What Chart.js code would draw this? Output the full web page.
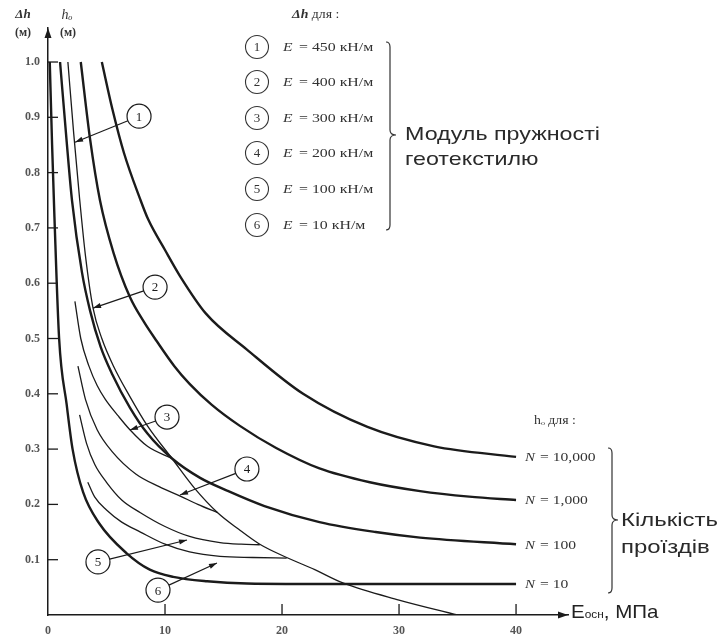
<!DOCTYPE html>
<html><head><meta charset="utf-8">
<script src="https://cdn.jsdelivr.net/npm/chart.js@4.4.0/dist/chart.umd.min.js"></script>
<style>html,body{margin:0;padding:0;background:#fff;}#wrap{width:720px;height:639px;}</style>
</head><body><div id="wrap"><canvas id="c" width="720" height="639"></canvas></div>
<script>
// ---- tick labels ----
const xTicks = [0, 10, 20, 30, 40];
const yTicks = [0.1, 0.2, 0.3, 0.4, 0.5, 0.6, 0.7, 0.8, 0.9, 1.0];

// ---- h0 curves (heavy) ----
const n10X = [0.15, 0.35, 0.55, 0.95, 1.6, 2.1, 3.0, 4.4, 6.7, 8.7, 10.7, 13.6, 17, 25, 40];
const n10Y = [1.0, 0.85, 0.72, 0.5, 0.38, 0.30, 0.222, 0.165, 0.112, 0.082, 0.069, 0.061, 0.057, 0.056, 0.056];
const n100X = [1.03, 1.6, 2.05, 2.9, 3.6, 4.5, 5.5, 7.0, 8.5, 10.6, 13, 15.3, 18.5, 23.2, 28, 31.8, 40];
const n100Y = [1.0, 0.855, 0.75, 0.62, 0.55, 0.485, 0.435, 0.375, 0.328, 0.283, 0.248, 0.225, 0.197, 0.168, 0.15, 0.14, 0.128];
const n1000X = [2.8, 3.6, 4.44, 5.6, 7.0, 8.2, 9.3, 10.8, 12.1, 14, 16.4, 19.5, 23.2, 27.5, 31.8, 36, 40];
const n1000Y = [1.0, 0.86, 0.75, 0.655, 0.575, 0.53, 0.495, 0.45, 0.418, 0.38, 0.342, 0.302, 0.265, 0.24, 0.224, 0.214, 0.208];
const n10000X = [4.6, 5.5, 6.5, 7.86, 8.57, 10, 11.28, 13.5, 17, 21.8, 27.3, 33, 40];
const n10000Y = [1.0, 0.915, 0.835, 0.753, 0.715, 0.66, 0.613, 0.545, 0.48, 0.40, 0.34, 0.305, 0.286];
const nLabels = ['10', '100', '1,000', '10,000'];

// ---- delta-h curves (thin) ----
const dLongX = [1.7, 2.2, 2.7, 3.2, 3.85, 4.6, 5.6, 7.0, 8.5, 10.6, 12.5, 14.5, 16.3, 18.1, 20.4, 22.8, 25.2, 30, 35];
const dLongY = [1.0, 0.87, 0.753, 0.65, 0.555, 0.5, 0.45, 0.395, 0.342, 0.283, 0.23, 0.185, 0.155, 0.128, 0.104, 0.082, 0.058, 0.027, 0];
const d3X = [2.3, 2.8, 3.5, 4.2, 4.9, 6.0, 7.0, 8.5, 10.6];
const d3Y = [0.567, 0.5, 0.45, 0.415, 0.39, 0.36, 0.335, 0.305, 0.283];
const d4X = [2.56, 3.2, 4.2, 5.5, 7.5, 9.5, 11.3, 12.8, 14.5];
const d4Y = [0.45, 0.39, 0.335, 0.295, 0.255, 0.232, 0.215, 0.2, 0.185];
const d5X = [2.7, 3.3, 4.0, 5.0, 6.3, 7.9, 10, 12.1, 14.7, 16.5, 18.1];
const d5Y = [0.362, 0.31, 0.272, 0.24, 0.208, 0.185, 0.16, 0.142, 0.131, 0.128, 0.127];
const d6X = [3.4, 4.0, 5.0, 6.3, 7.9, 10, 12.1, 14.7, 17.5, 20.4];
const d6Y = [0.24, 0.213, 0.19, 0.168, 0.15, 0.128, 0.114, 0.106, 0.104, 0.103];
const eValues = ['450', '400', '300', '200', '100', '10'];

// ---- callouts: circle number, circle centre and arrow tip (data units) ----
const calloutNum = [1, 2, 3, 4, 5, 6];
const calloutCX = [7.78, 9.15, 10.17, 17.0, 4.27, 9.4];
const calloutCY = [0.902, 0.593, 0.358, 0.264, 0.096, 0.045];
const calloutTX = [2.31, 3.85, 7.0, 11.28, 11.88, 14.44];
const calloutTY = [0.855, 0.555, 0.3345, 0.217, 0.1356, 0.094];

const INK = '#1b1b1b';
const SERIF = '"Liberation Serif", "DejaVu Serif", serif';
const SANS = '"Liberation Sans", Arial, sans-serif';

function pts(xs, ys) { return xs.map((x, i) => ({ x: x, y: ys[i] })); }
function ds(xs, ys, w) {
  return { data: pts(xs, ys), showLine: true, borderColor: INK, borderWidth: w,
    pointRadius: 0, fill: false, cubicInterpolationMode: 'monotone' };
}

function line(ctx, a, b, c, d) { ctx.beginPath(); ctx.moveTo(a, b); ctx.lineTo(c, d); ctx.stroke(); }
function head(ctx, x, y, dx, dy, len, hw) {
  const l = Math.hypot(dx, dy); dx /= l; dy /= l;
  ctx.beginPath();
  ctx.moveTo(x, y);
  ctx.lineTo(x - dx * len - dy * hw, y - dy * len + dx * hw);
  ctx.lineTo(x - dx * len + dy * hw, y - dy * len - dx * hw);
  ctx.closePath(); ctx.fill();
}
function brace(ctx, x, y0, y1, ym, w) {
  ctx.beginPath();
  ctx.moveTo(x - 4, y0);
  ctx.quadraticCurveTo(x, y0, x, y0 + 5);
  ctx.lineTo(x, ym - 5);
  ctx.quadraticCurveTo(x, ym, x + w, ym);
  ctx.quadraticCurveTo(x, ym, x, ym + 5);
  ctx.lineTo(x, y1 - 5);
  ctx.quadraticCurveTo(x, y1, x - 4, y1);
  ctx.stroke();
}
// text stretched horizontally by factor sx, starting at x
function textX(ctx, t, x, y, sx) {
  ctx.save(); ctx.translate(x, y); ctx.scale(sx, 1); ctx.fillText(t, 0, 0); ctx.restore();
  return ctx.measureText(t).width * sx;
}

const deco = {
  id: 'deco',
  afterDraw(chart) {
    const ctx = chart.ctx, xs = chart.scales.x, ys = chart.scales.y, ca = chart.chartArea;
    ctx.save();
    ctx.strokeStyle = INK; ctx.fillStyle = INK;
    // inner tick marks
    ctx.lineWidth = 1.3;
    yTicks.forEach(v => { const p = ys.getPixelForValue(v); line(ctx, ca.left, p, ca.left + 10, p); });
    xTicks.forEach(v => { if (v === 0) return; const p = xs.getPixelForValue(v); line(ctx, p, ca.bottom, p, ca.bottom - 11); });
    // axis arrowheads
    head(ctx, ca.left, ca.top, 0, -1, 10, 3.5);
    head(ctx, ca.right, ca.bottom, 1, 0, 10, 3.5);

    // axis titles top-left
    ctx.fillStyle = '#333';
    ctx.textBaseline = 'middle'; ctx.textAlign = 'center';
    ctx.font = 'italic bold 13px ' + SERIF;
    ctx.fillText('Δh', 23, 15);
    ctx.font = 'italic 14px ' + SERIF;
    ctx.fillText('hₒ', 67, 15);
    ctx.font = 'bold 12px ' + SERIF;
    ctx.fillText('(м)', 23, 33);
    ctx.fillText('(м)', 68, 33);

    // x axis title
    ctx.fillStyle = '#222';
    ctx.textAlign = 'left'; ctx.textBaseline = 'alphabetic';
    let tx = ca.right + 3;
    ctx.font = '19px ' + SANS; tx += textX(ctx, 'E', tx, 618, 1.08);
    ctx.font = '11px ' + SANS; tx += textX(ctx, 'осн', tx, 618, 1.08);
    ctx.font = '19px ' + SANS; textX(ctx, ', МПа', tx, 618, 1.08);

    // legend of delta-h curves
    ctx.fillStyle = '#333'; ctx.strokeStyle = '#333';
    ctx.textAlign = 'left'; ctx.textBaseline = 'middle';
    ctx.font = 'italic bold 12px ' + SERIF; let hx = 292 + textX(ctx, 'Δh', 292, 15, 1.15);
    ctx.font = '12px ' + SERIF; textX(ctx, ' для :', hx, 15, 1.15);
    const rows = [47, 82, 118, 153, 189, 225];
    ctx.lineWidth = 1.1;
    eValues.forEach((v, i) => {
      const y = rows[i];
      ctx.beginPath(); ctx.arc(257, y, 11.5, 0, Math.PI * 2); ctx.stroke();
      ctx.textAlign = 'center'; ctx.font = '13px ' + SERIF; ctx.fillText(String(i + 1), 257, y + 1);
      ctx.textAlign = 'left';
      ctx.font = 'italic 13px ' + SERIF; textX(ctx, 'E', 283, y + 1, 1.2);
      ctx.font = '13px ' + SERIF; textX(ctx, '= ' + v + ' кН/м', 299, y + 1, 1.22);
    });
    ctx.lineWidth = 1.2;
    brace(ctx, 390, 42, 230, 135, 6);
    ctx.fillStyle = '#2a2a2a';
    ctx.font = '19px ' + SANS; ctx.textBaseline = 'alphabetic';
    const sxM = 195 / ctx.measureText('Модуль пружності').width;
    textX(ctx, 'Модуль пружності', 405, 140, sxM);
    textX(ctx, 'геотекстилю', 405, 165, sxM);

    // N labels
    ctx.fillStyle = '#333';
    ctx.textBaseline = 'middle';
    const tails = [n10Y, n100Y, n1000Y, n10000Y];
    nLabels.forEach((t, i) => {
      const yv = tails[i][tails[i].length - 1];
      const py = ys.getPixelForValue(yv) + 1;
      const px = xs.getPixelForValue(40) + 9;
      ctx.font = 'italic 13px ' + SERIF; textX(ctx, 'N', px, py, 1.15);
      ctx.font = '13px ' + SERIF; textX(ctx, '= ' + t, px + 15, py, 1.2);
    });
    ctx.font = '12px ' + SERIF; textX(ctx, 'hₒ для :', 534, 421, 1.15);
    brace(ctx, 612, 448, 593, 520, 6);
    ctx.fillStyle = '#2a2a2a';
    ctx.font = '19px ' + SANS; ctx.textBaseline = 'alphabetic';
    const sxK = 97 / ctx.measureText('Кількість').width;
    textX(ctx, 'Кількість', 621, 526, sxK);
    textX(ctx, 'проїздів', 621, 553, sxK);

    // callouts
    ctx.strokeStyle = INK; ctx.fillStyle = INK;
    calloutNum.forEach((n, i) => {
      const cx = xs.getPixelForValue(calloutCX[i]), cy = ys.getPixelForValue(calloutCY[i]);
      const px = xs.getPixelForValue(calloutTX[i]), py = ys.getPixelForValue(calloutTY[i]);
      const r = 12;
      ctx.lineWidth = 1.2;
      ctx.beginPath(); ctx.arc(cx, cy, r, 0, Math.PI * 2); ctx.stroke();
      const dx = px - cx, dy = py - cy, l = Math.hypot(dx, dy);
      line(ctx, cx + dx / l * r, cy + dy / l * r, px, py);
      head(ctx, px, py, dx, dy, 8, 2.6);
      ctx.font = '13px ' + SERIF; ctx.textAlign = 'center'; ctx.textBaseline = 'middle';
      ctx.fillText(String(n), cx, cy + 1);
    });
    ctx.restore();
  }
};

new Chart(document.getElementById('c'), {
  type: 'scatter',
  data: {
    datasets: [
      ds(n10X, n10Y, 2.4), ds(n100X, n100Y, 2.4), ds(n1000X, n1000Y, 2.4), ds(n10000X, n10000Y, 2.4),
      ds(dLongX, dLongY, 1.3), ds(d3X, d3Y, 1.3), ds(d4X, d4Y, 1.3), ds(d5X, d5Y, 1.3), ds(d6X, d6Y, 1.3)
    ]
  },
  options: {
    responsive: false, animation: false, devicePixelRatio: 1,
    layout: { padding: { top: 28, right: 152, left: 0, bottom: 0 } },
    plugins: { legend: { display: false }, tooltip: { enabled: false } },
    scales: {
      x: {
        type: 'linear', min: 0, max: 44.44,
        afterBuildTicks: a => { a.ticks = xTicks.map(v => ({ value: v })); },
        afterFit: s => { s.height = 24; },
        grid: { display: false, drawTicks: false },
        border: { display: true, color: INK, width: 1.5 },
        ticks: { padding: 9, color: '#555', autoSkip: false, maxRotation: 0,
          font: { family: SERIF, size: 12, weight: 'bold' } }
      },
      y: {
        type: 'linear', min: 0, max: 1.0615,
        afterBuildTicks: a => { a.ticks = yTicks.map(v => ({ value: v })); },
        afterFit: s => { s.width = 48; },
        grid: { display: false, drawTicks: false },
        border: { display: true, color: INK, width: 1.5 },
        ticks: { padding: 8, color: '#555', callback: v => Number(v).toFixed(1),
          font: { family: SERIF, size: 12, weight: 'bold' } }
      }
    }
  },
  plugins: [deco]
});
</script></body></html>
